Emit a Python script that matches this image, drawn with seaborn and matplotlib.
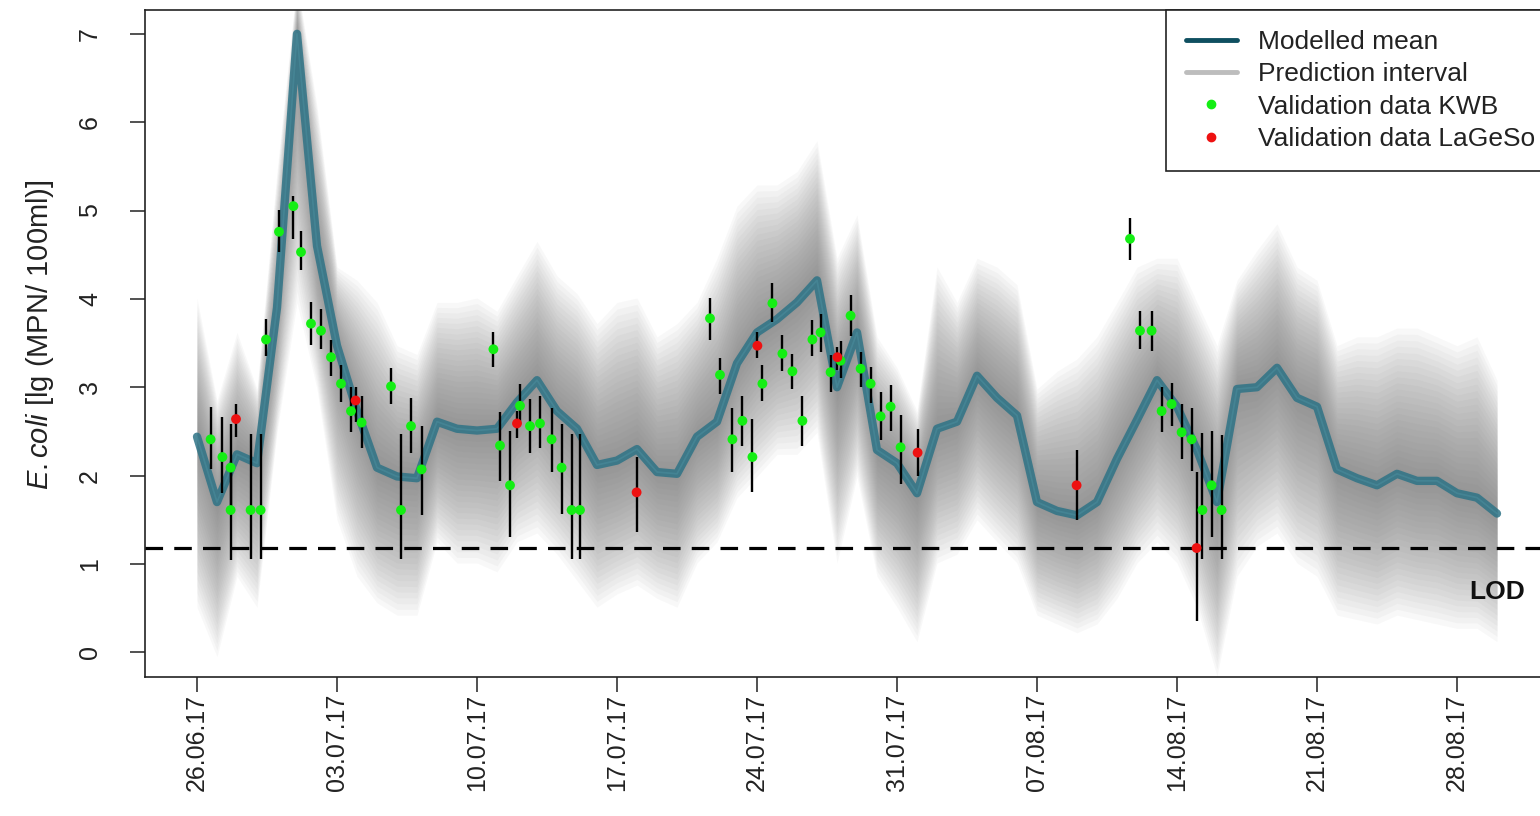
import numpy as np
import pandas as pd
import matplotlib
matplotlib.use("Agg")
import matplotlib.pyplot as plt
from matplotlib.lines import Line2D
import seaborn as sns

# ---------------- data ----------------
tick_days = [0, 7, 14, 21, 28, 35, 42, 49, 56, 63]
tick_labels = ["26.06.17", "03.07.17", "10.07.17", "17.07.17", "24.07.17",
               "31.07.17", "07.08.17", "14.08.17", "21.08.17", "28.08.17"]

# modelled mean, one value per day starting 26.06.17
model_mean = [2.44, 1.70, 2.24, 2.14, 3.90, 7.00, 4.60, 3.47, 2.73, 2.09,
              1.99, 1.97, 2.61, 2.53, 2.51, 2.53, 2.83, 3.08, 2.73, 2.53,
              2.12, 2.17, 2.30, 2.04, 2.02, 2.44, 2.61, 3.27, 3.62, 3.77,
              3.96, 4.21, 3.00, 3.62, 2.29, 2.14, 1.80, 2.53, 2.61, 3.13,
              2.88, 2.68, 1.70, 1.60, 1.55, 1.70, 2.19, 2.63, 3.08, 2.78,
              2.29, 1.70, 2.98, 3.00, 3.22, 2.88, 2.78, 2.07, 1.97, 1.89,
              2.02, 1.94, 1.94, 1.80, 1.75, 1.57]
# upper / lower envelope of the simulated trajectories (prediction interval)
pi_upper = [4.01, 2.85, 3.62, 2.98, 5.44, 7.60, 6.18, 4.36, 4.21, 3.96,
            3.47, 3.37, 3.96, 3.96, 4.01, 3.86, 4.26, 4.65, 4.26, 4.06,
            3.72, 3.96, 4.01, 3.57, 3.72, 3.96, 4.46, 5.05, 5.29, 5.29,
            5.44, 5.79, 4.46, 4.95, 3.57, 3.22, 2.73, 4.36, 3.96, 4.46,
            4.36, 4.16, 2.98, 3.18, 3.32, 3.57, 3.96, 4.36, 4.46, 4.46,
            3.96, 3.47, 4.21, 4.55, 4.85, 4.36, 4.21, 3.47, 3.57, 3.57,
            3.67, 3.67, 3.57, 3.47, 3.57, 3.08]
pi_lower = [0.51, -0.05, 0.86, 0.51, 2.49, 3.96, 2.98, 1.50, 0.86, 0.56,
            0.42, 0.42, 1.25, 1.01, 1.01, 0.91, 1.25, 1.35, 1.11, 0.81,
            0.51, 0.66, 0.76, 0.61, 0.51, 1.01, 1.25, 1.75, 1.99, 2.24,
            2.24, 2.49, 1.01, 1.99, 0.86, 0.51, 0.12, 1.01, 1.11, 1.50,
            1.25, 1.01, 0.42, 0.32, 0.22, 0.32, 0.61, 1.01, 1.25, 1.01,
            0.51, -0.27, 0.86, 1.20, 1.35, 1.01, 0.86, 0.42, 0.37, 0.32,
            0.42, 0.37, 0.32, 0.27, 0.27, 0.12]

# validation data KWB (day offset, value, lower, upper)
kwb_day = [0.68, 1.27, 1.68, 1.68, 2.68, 3.18, 3.45, 4.10, 4.82, 5.20,
           5.70, 6.20, 6.70, 7.20, 7.70, 8.23, 9.70, 10.20, 10.70, 11.23,
           14.82, 15.15, 15.65, 16.15, 16.65, 17.15, 17.73, 18.23, 18.73, 19.15,
           25.65, 26.15, 26.77, 27.27, 27.77, 28.27, 28.77, 29.27, 29.77, 30.27,
           30.77, 31.18, 31.68, 32.18, 32.68, 33.18, 33.68, 34.18, 34.68, 35.18,
           46.65, 47.15, 47.73, 48.23, 48.73, 49.23, 49.73, 50.27, 50.73, 51.23]
kwb_val = [2.41, 2.21, 2.09, 1.61, 1.61, 1.61, 3.54, 4.76, 5.05, 4.53,
           3.72, 3.64, 3.34, 3.04, 2.73, 2.60, 3.01, 1.61, 2.56, 2.07,
           3.43, 2.34, 1.89, 2.79, 2.56, 2.59, 2.41, 2.09, 1.61, 1.61,
           3.78, 3.14, 2.41, 2.62, 2.21, 3.04, 3.95, 3.38, 3.18, 2.62,
           3.54, 3.62, 3.17, 3.30, 3.81, 3.21, 3.04, 2.67, 2.78, 2.32,
           4.68, 3.64, 3.64, 2.73, 2.81, 2.49, 2.41, 1.61, 1.89, 1.61]
kwb_lo = [2.07, 1.80, 1.60, 1.05, 1.06, 1.06, 3.35, 4.53, 4.68, 4.33,
          3.48, 3.43, 3.13, 2.83, 2.49, 2.31, 2.81, 1.06, 2.25, 1.55,
          3.23, 1.94, 1.30, 2.58, 2.25, 2.31, 2.04, 1.57, 1.06, 1.06,
          3.54, 2.92, 2.04, 2.33, 1.81, 2.84, 3.74, 3.18, 2.98, 2.33,
          3.35, 3.40, 2.95, 3.10, 3.58, 3.00, 2.82, 2.40, 2.51, 1.90,
          4.44, 3.43, 3.41, 2.49, 2.56, 2.19, 2.05, 1.06, 1.30, 1.06]
kwb_hi = [2.78, 2.66, 2.58, 2.09, 2.47, 2.47, 3.77, 5.01, 5.17, 4.77,
          3.96, 3.89, 3.54, 3.25, 3.00, 2.90, 3.22, 2.47, 2.88, 2.56,
          3.63, 2.72, 2.51, 3.04, 2.87, 2.90, 2.76, 2.58, 2.47, 2.47,
          4.01, 3.33, 2.76, 2.90, 2.64, 3.25, 4.18, 3.59, 3.38, 2.90,
          3.76, 3.83, 3.37, 3.52, 4.04, 3.40, 3.23, 2.95, 3.03, 2.69,
          4.92, 3.86, 3.86, 3.00, 3.05, 2.81, 2.76, 2.48, 2.51, 2.46]

# validation data LaGeSo
lag_day = [1.95, 7.93, 16.00, 21.98, 28.02, 32.02, 36.03, 43.98, 49.98]
lag_val = [2.64, 2.85, 2.59, 1.81, 3.47, 3.34, 2.26, 1.89, 1.18]
lag_lo = [2.44, 2.61, 2.43, 1.36, 3.33, 3.20, 2.00, 1.50, 0.35]
lag_hi = [2.81, 3.00, 2.73, 2.21, 3.62, 3.46, 2.53, 2.29, 2.04]

lod = 1.18

# ---------------- styling ----------------
sns.set_theme(style="ticks")
plt.rcParams["font.family"] = ["Liberation Sans", "DejaVu Sans"]
plt.rcParams["mathtext.fontset"] = "custom"
plt.rcParams["mathtext.it"] = "Liberation Sans:italic"
plt.rcParams["mathtext.rm"] = "Liberation Sans"

W, H = 1540, 816
fig = plt.figure(figsize=(W / 100, H / 100), dpi=100)
ax_right = 1555
ax = fig.add_axes([145 / W, 1 - 677 / H, (ax_right - 145) / W, (677 - 10) / H])

days = np.arange(len(model_mean))
mean_arr = np.array(model_mean)
up_arr = np.array(pi_upper)
lo_arr = np.array(pi_lower)

# prediction interval: layered translucent grey bands (denser near the mean)
n_layers = 24
for k in range(n_layers):
    t = (k + 1) / n_layers
    ax.fill_between(days, mean_arr - t * (mean_arr - lo_arr),
                    mean_arr + t * (up_arr - mean_arr),
                    color="#6a6a6a", alpha=0.045, lw=0, zorder=1)

# modelled mean
df_mean = pd.DataFrame({"day": days, "mean": model_mean})
sns.lineplot(data=df_mean, x="day", y="mean", ax=ax, color="#2e7386",
             lw=6, alpha=0.85, zorder=3, legend=False)
sns.lineplot(data=df_mean, x="day", y="mean", ax=ax, color="#4a8c9c",
             lw=1.2, alpha=0.6, zorder=3, legend=False)

# LOD
ax.axhline(lod, color="black", lw=2.3, dashes=(5.5, 3.5), zorder=4)
ax.text(65, 0.68, "LOD", fontsize=19, fontweight="bold", ha="center",
        va="center", color="#111111", zorder=6)

# validation data with error bars
ax.vlines(kwb_day, kwb_lo, kwb_hi, color="black", lw=1.7, zorder=5)
ax.vlines(lag_day, lag_lo, lag_hi, color="black", lw=1.7, zorder=5)
df_kwb = pd.DataFrame({"day": kwb_day, "val": kwb_val})
df_lag = pd.DataFrame({"day": lag_day, "val": lag_val})
sns.scatterplot(data=df_kwb, x="day", y="val", ax=ax, color="#14ee14",
                s=50, edgecolor="none", zorder=6, legend=False)
sns.scatterplot(data=df_lag, x="day", y="val", ax=ax, color="#ee1111",
                s=50, edgecolor="none", zorder=6, legend=False)

# axes (20 px per day, day 0 at x = 197 px)
ax.set_xlim(-2.6, -2.6 + (ax_right - 145) / 20)
ax.set_ylim(-0.28, 7.27)
ax.set_xticks(tick_days)
ax.set_xticklabels(tick_labels, rotation=90, fontsize=18, color="#222222")
ax.set_yticks(range(8))
ax.set_yticklabels([str(i) for i in range(8)], rotation=90, va="center",
                   fontsize=18, color="#222222")
ax.tick_params(axis="x", direction="out", length=11, width=1.1,
               color="#222222", pad=1)
ax.tick_params(axis="y", direction="out", length=11, width=1.1,
               color="#222222", pad=20)
for s in ax.spines.values():
    s.set_visible(True)
    s.set_linewidth(1.2)
    s.set_color("#222222")
ax.set_xlabel("")
ax.set_ylabel("")
fig.text(40 / W, 1 - 335 / H, r"$\it{E.coli}$ [lg (MPN/ 100ml)]",
         rotation=90, ha="center", va="center", fontsize=21, color="#222222")

# legend
handles = [
    Line2D([], [], color="#0f4f60", lw=3.5),
    Line2D([], [], color="#bdbdbd", lw=3.5),
    Line2D([], [], color="#14ee14", marker="o", ms=6, lw=0),
    Line2D([], [], color="#ee1111", marker="o", ms=6, lw=0),
]
labels = ["Modelled mean", "Prediction interval", "Validation data KWB",
          "Validation data LaGeSo"]
leg = ax.legend(handles, labels, loc="upper right", fontsize=19,
                frameon=True, fancybox=False, edgecolor="#222222",
                framealpha=1, borderaxespad=0, borderpad=0.75,
                labelspacing=0.32, handlelength=1.95, handletextpad=0.8)
leg.get_frame().set_linewidth(1.2)
for txt in leg.get_texts():
    txt.set_color("#222222")

fig.savefig("out.png", dpi=100)
